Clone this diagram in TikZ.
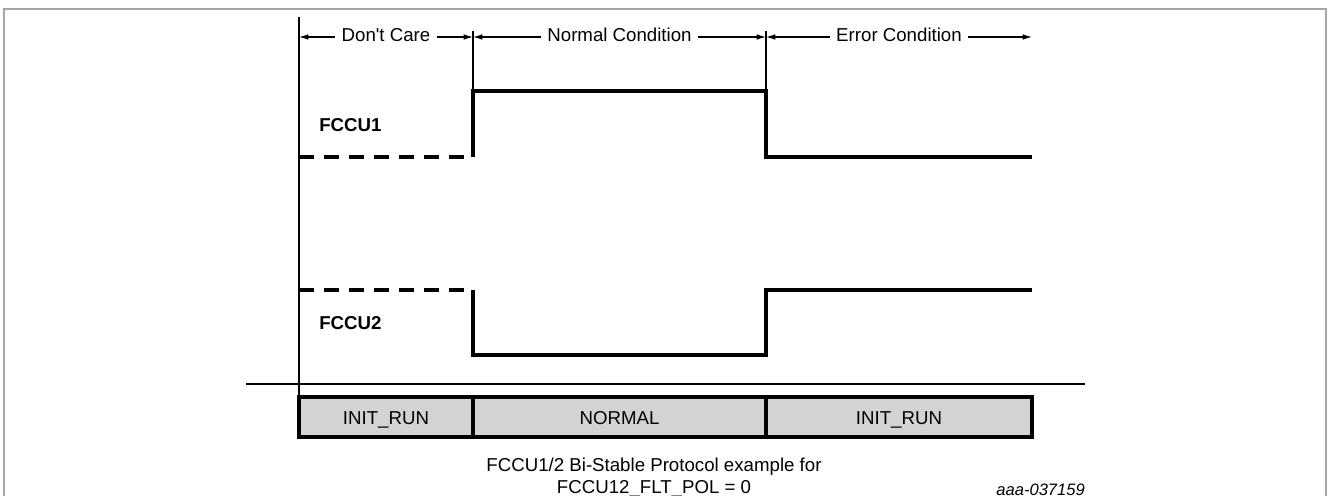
\documentclass[tikz,border=0pt]{standalone}
\usepackage{fontspec}
\setmainfont{Liberation Sans}
\usetikzlibrary{arrows.meta}
\definecolor{boxgray}{HTML}{D3D3D3}
\definecolor{framegray}{HTML}{A6A6A6}
\begin{document}
\begin{tikzpicture}[x=0.75pt,y=-0.75pt,
  txt/.style={font=\fontsize{14}{16.5}\selectfont},
  eqtxt/.style={txt, text height=10pt, text depth=3pt},
  lbl/.style={eqtxt, inner sep=4.5pt},
  sig/.style={line width=2.3pt, line join=miter},
  dsig/.style={line width=2.3pt, dash pattern=on 11.25pt off 7.5pt},
  thinline/.style={line width=1pt},
  dimarrow/.style={line width=0.8pt, -{Latex[length=7pt,width=4.2pt]}},
  modebox/.style={draw, line width=2.3pt, fill=boxgray},
  framestyle/.style={draw=framegray, line width=0.8pt}]
\useasboundingbox (0,0) rectangle (1328,496);
% frame
\draw[framestyle] (4,496) -- (4,9) -- (1326,9) -- (1326,496);

% mode boxes
\draw[modebox] (299,397) rectangle (473,437);
\draw[modebox] (473,397) rectangle (766,437);
\draw[modebox] (766,397) rectangle (1032,437);
\node[txt, anchor=base] (m1) at (386,424) {INIT\_RUN};
\node[txt, anchor=base] (m2) at (619.5,424) {NORMAL};
\node[txt, anchor=base] (m3) at (899,424) {INIT\_RUN};

% axes
\coordinate (axtop) at (299,17);
\coordinate (axbot) at (299,437);
\draw[thinline] (axtop) -- (axbot);
\coordinate (hl) at (246,384);
\coordinate (hr) at (1085,384);
\draw[thinline] (hl) -- (hr);

% ticks
\coordinate (t1a) at (473,31);
\coordinate (t1b) at (473,91);
\coordinate (t2a) at (766,31);
\coordinate (t2b) at (766,91);
\draw[thinline] (t1a) -- (t1b);
\draw[thinline] (t2a) -- (t2b);

% region labels with arrows
\node[lbl] (dc) at (386,37) {Don\textquotesingle t Care};
\node[lbl] (nc) at (619.5,37) {Normal Condition};
\node[lbl] (ec) at (899,37) {Error Condition};
\coordinate (p0) at (299,37);
\coordinate (p1) at (473,37);
\coordinate (p2) at (766,37);
\coordinate (p3) at (1032,37);
\draw[dimarrow] (dc.west) -- (p0);
\draw[dimarrow] (dc.east) -- (p1);
\draw[dimarrow] (nc.west) -- (p1);
\draw[dimarrow] (nc.east) -- (p2);
\draw[dimarrow] (ec.west) -- (p2);
\draw[dimarrow] (ec.east) -- (p3);

% signal labels
\node[font=\fontsize{14}{16.5}\selectfont\bfseries, anchor=west, inner sep=0pt] (f1) at (319,125) {FCCU1};
\node[font=\fontsize{14}{16.5}\selectfont\bfseries, anchor=west, inner sep=0pt] (f2) at (319,323) {FCCU2};

% FCCU1 waveform
\draw[dsig] (299,157) -- (473,157);
\draw[sig] (473,157) -- (473,91) -- (766,91) -- (766,157) -- (1032,157);

% FCCU2 waveform
\draw[dsig] (299,290) -- (473,290);
\draw[sig] (473,290) -- (473,355) -- (766,355) -- (766,290) -- (1032,290);

% caption
\node[txt, align=center] (cap) at (654,477.5) {FCCU1/2 Bi-Stable Protocol example for\\FCCU12\_FLT\_POL = 0};
\node[font=\fontsize{12.4}{14}\selectfont\itshape, anchor=base east, inner sep=0pt] (id) at (1085,495) {aaa-037159};
\end{tikzpicture}
\end{document}
